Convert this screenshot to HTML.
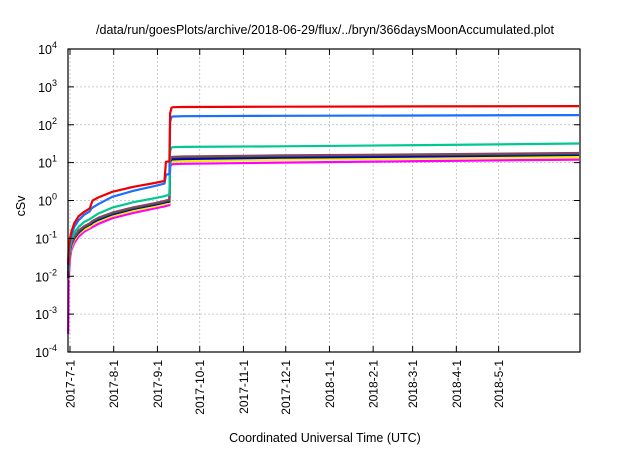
<!DOCTYPE html>
<html><head><meta charset="utf-8"><style>
body{margin:0;background:#fff;}
svg text{font-family:"Liberation Sans",sans-serif;fill:#000;}
</style></head><body>
<svg id="c" width="640" height="448" xmlns="http://www.w3.org/2000/svg">
<text x="325" y="34" font-size="12.5" text-anchor="middle">/data/run/goesPlots/archive/2018-06-29/flux/../bryn/366daysMoonAccumulated.plot</text>
<text transform="translate(25,206) rotate(-90)" font-size="12.5" text-anchor="middle">cSv</text>
<text x="325" y="442" font-size="12.5" text-anchor="middle">Coordinated Universal Time (UTC)</text>
<g id="grid"></g><g id="series"></g><g id="axes"></g>
</svg>
<script>
const xTickLabels=["2017-7-1","2017-8-1","2017-9-1","2017-10-1","2017-11-1","2017-12-1","2018-1-1","2018-2-1","2018-3-1","2018-4-1","2018-5-1"];
const xTickDays=[0,31,62,92,123,153,184,215,243,274,304];
const yTickExps=[-4,-3,-2,-1,0,1,2,3,4];
const seriesColors=["#ff00ff","#ffee00","#0000cc","#006600","#884466","#00c890","#1a6eff","#ee0000"];
const days=[-1.3,-1,0,1,3,6,10,14,15,16,20,30,45,60,67,68,70.5,71,72,73,80,150,250,361];
const red=[0.02,0.05,0.1,0.15,0.25,0.38,0.5,0.62,0.8,1.0,1.2,1.7,2.3,2.9,3.3,10.5,10.8,200,280,290,295,300,305,310];
const blue=[0.018,0.04,0.08,0.12,0.2,0.3,0.42,0.52,0.6,0.65,0.8,1.25,1.8,2.4,2.8,4.8,5,120,160,165,168,172,176,180];
const teal=[0.014,0.03,0.06,0.09,0.14,0.2,0.27,0.32,0.34,0.36,0.45,0.65,0.9,1.15,1.3,1.35,1.4,20,25,25.5,26,27,29,32];
const brown=[0.01,0.025,0.05,0.075,0.11,0.16,0.21,0.25,0.27,0.29,0.35,0.48,0.66,0.85,0.97,1.0,1.05,12,14,14.2,14.5,15.5,16.5,18];
const green=[0.01,0.024,0.048,0.072,0.105,0.15,0.2,0.24,0.26,0.28,0.33,0.46,0.63,0.82,0.93,0.96,1.0,11,13.5,13.7,14,15,16,17];
const navy=[0.009,0.022,0.045,0.068,0.1,0.14,0.19,0.23,0.24,0.26,0.31,0.43,0.6,0.77,0.88,0.9,0.93,10.5,12,12.2,12.5,13.5,14.5,16];
const yellow=[0.008,0.019,0.04,0.06,0.09,0.13,0.17,0.2,0.22,0.23,0.28,0.39,0.54,0.7,0.8,0.82,0.85,9.5,10.5,10.7,11,12,13,14];
const magenta=[0.0003,0.008,0.03,0.05,0.075,0.11,0.15,0.18,0.19,0.2,0.24,0.34,0.47,0.62,0.7,0.72,0.75,8,9,9.1,9.3,10,11,12];
const allSeries=[magenta,yellow,navy,green,brown,teal,blue,red];
const L=68,R=580,T=49,B=352,NS="http://www.w3.org/2000/svg";
const x=d=>70+d*1.41;
const y=v=>B-(Math.log10(v)+4)*(B-T)/8;
function mk(t,a,p){const e=document.createElementNS(NS,t);for(const k in a)e.setAttribute(k,a[k]);p.appendChild(e);return e;}
const grid=document.getElementById('grid'),ser=document.getElementById('series'),ax=document.getElementById('axes');
xTickDays.forEach((d,i)=>{
 const g=mk('line',{x1:x(d),x2:x(d),y1:T,y2:B,stroke:'#bbb','stroke-dasharray':'2,2','stroke-width':0.8},grid);
 
 
 const t1=mk('line',{x1:x(d),x2:x(d),y1:B,y2:B-6,stroke:'#000'},ax);
 
 
 const t2=mk('line',{x1:x(d),x2:x(d),y1:T,y2:T+6,stroke:'#000'},ax);
 
 
 const tx=mk('text',{transform:`translate(${x(d)+4.5},360) rotate(-90)`,'font-size':12,'text-anchor':'end'},ax);
 tx.textContent=xTickLabels[i];
 
 
});
yTickExps.forEach(e=>{
 const yy=y(Math.pow(10,e));
 if(e>-4&&e<4){const g=mk('line',{x1:L,x2:R,y1:yy,y2:yy,stroke:'#bbb','stroke-dasharray':'2,2','stroke-width':0.8},grid);
 
 }
 const t1=mk('line',{x1:L,x2:L+6,y1:yy,y2:yy,stroke:'#000'},ax);
 
 
 const t2=mk('line',{x1:R,x2:R-6,y1:yy,y2:yy,stroke:'#000'},ax);
 
 
 const tx=mk('text',{x:57,y:yy+5,'font-size':12.5,'text-anchor':'end'},ax);
 tx.innerHTML='10<tspan dy="-6" font-size="9">'+e+'</tspan>';
 
 
});
const fr=mk('rect',{x:L,y:T,width:R-L,height:B-T,fill:'none',stroke:'#000','stroke-width':1.2},ax);


allSeries.forEach((s,i)=>{
 const pts=s.map((v,j)=>x(days[j]).toFixed(1)+','+y(v).toFixed(1)).join(' ');
 const p=mk('polyline',{points:pts,fill:'none',stroke:seriesColors[i],'stroke-width':2.2,'stroke-linejoin':'round'},ser);
 
 
});
</script>
</body></html>
